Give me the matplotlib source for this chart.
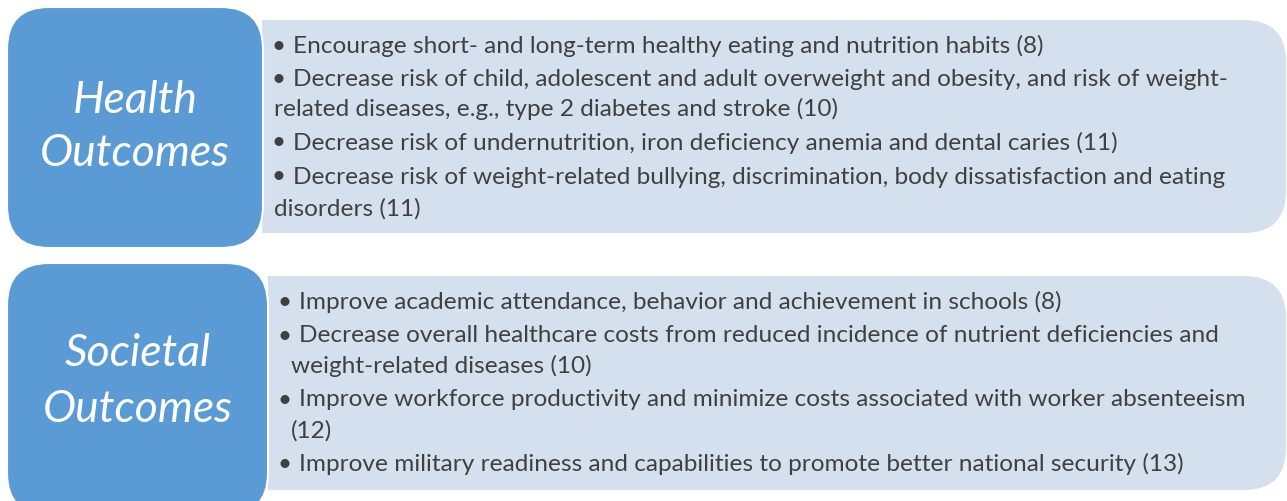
import matplotlib
matplotlib.use("Agg")
import matplotlib.pyplot as plt
from matplotlib.patches import FancyBboxPatch, Rectangle

# ---- content ----
headers = [["Health", "Outcomes"], ["Societal", "Outcomes"]]
health_items = [
    ["Encourage short- and long-term healthy eating and nutrition habits (8)"],
    ["Decrease risk of child, adolescent and adult overweight and obesity, and risk of weight-",
     "related diseases, e.g., type 2 diabetes and stroke (10)"],
    ["Decrease risk of undernutrition, iron deficiency anemia and dental caries (11)"],
    ["Decrease risk of weight-related bullying, discrimination, body dissatisfaction and eating",
     "disorders (11)"],
]
societal_items = [
    ["Improve academic attendance, behavior and achievement in schools (8)"],
    ["Decrease overall healthcare costs from reduced incidence of nutrient deficiencies and",
     "weight-related diseases (10)"],
    ["Improve workforce productivity and minimize costs associated with worker absenteeism",
     "(12)"],
    ["Improve military readiness and capabilities to promote better national security (13)"],
]
items = [health_items, societal_items]

# ---- style / layout ----
W, H = 1287, 501
BLUE = "#5B9BD5"
LIGHT = "#D5E0EF"
TXT = "#404040"
FONT = ["Lato", "DejaVu Sans"]
BODY = 17.6

fig = plt.figure(figsize=(W / 100, H / 100), dpi=100)
ax = fig.add_axes([0, 0, 1, 1])
ax.set_xlim(0, W)
ax.set_ylim(H, 0)
ax.axis("off")

panels = [
    dict(blue=(7, 7, 263, 248), light=(262, 20, 1286, 233),
         bullet_x=278, text_x=293, cont_x=274,
         line_y=[46, 79, 109, 143, 177, 209], head_y=(100, 153), head_x=135),
    dict(blue=(7, 263, 268, 515), light=(268, 276, 1286, 490),
         bullet_x=284, text_x=299, cont_x=291,
         line_y=[302, 336, 366, 400, 431, 464], head_y=(354, 410), head_x=138),
]

R = 42
for p, head, its in zip(panels, headers, items):
    x0, y0, x1, y1 = p["light"]
    ax.add_patch(FancyBboxPatch((x0, y0), x1 - x0, y1 - y0,
                                boxstyle=f"round,pad=0,rounding_size={R}",
                                fc=LIGHT, ec="none", zorder=1))
    ax.add_patch(Rectangle((x0, y0), 60, y1 - y0, fc=LIGHT, ec="none", zorder=1))
    bx0, by0, bx1, by1 = p["blue"]
    ax.add_patch(FancyBboxPatch((bx0, by0), bx1 - bx0, by1 - by0,
                                boxstyle=f"round,pad=0,rounding_size={R}",
                                fc=BLUE, ec="white", lw=1.5, zorder=2))
    for txt, yy in zip(head, p["head_y"]):
        ax.text(p["head_x"], yy, txt, fontsize=32, style="italic", weight="normal",
                color="white", ha="center", va="center", family=FONT, zorder=3)
    k = 0
    for item in its:
        for j, line in enumerate(item):
            yy = p["line_y"][k]
            if j == 0:
                ax.text(p["bullet_x"], yy, "\u2022", fontsize=BODY, color=TXT,
                        ha="center", va="center", family=FONT, zorder=3)
                ax.text(p["text_x"], yy, line, fontsize=BODY, color=TXT,
                        ha="left", va="center", family=FONT, zorder=3)
            else:
                ax.text(p["cont_x"], yy, line, fontsize=BODY, color=TXT,
                        ha="left", va="center", family=FONT, zorder=3)
            k += 1

fig.savefig("out.png", dpi=100, facecolor="white")
